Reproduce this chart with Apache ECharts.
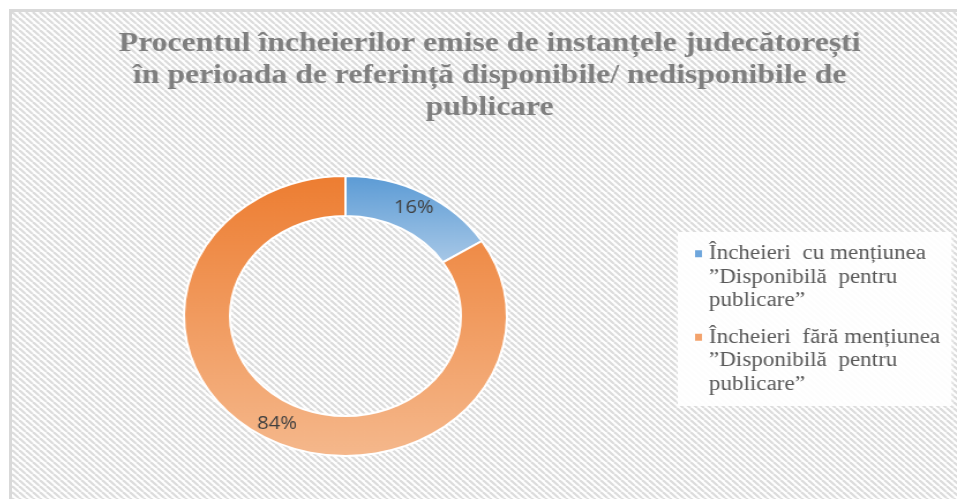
<!DOCTYPE html>
<html>
<head>
<meta charset="utf-8">
<script src="https://cdn.jsdelivr.net/npm/echarts@6/dist/echarts.min.js"></script>
<style>
    html, body { margin: 0; padding: 0; background: #fff; width: 957px; height: 499px; overflow: hidden; }
    #wrap {
        position: absolute; left: 9px; top: 9px; right: 0; bottom: 0;
        border-top: 3px solid #d9d9d9; border-left: 3px solid #d9d9d9;
        overflow: hidden;
    }
    /* the reference is stretched sideways, so the chart is drawn narrower and widened */
    #main { width: 819px; height: 487px; transform-origin: 0 0; transform: scaleX(1.1538); }
</style>
</head>
<body>
<div id="wrap"><div id="main"></div></div>
<script>
    var titleText = 'Procentul încheierilor emise de instanțele judecătorești\n' +
        'în perioada de referință disponibile/ nedisponibile de\npublicare';
    var categories = [
        'Încheieri cu mențiunea ”Disponibilă pentru publicare”',
        'Încheieri fără mențiunea ”Disponibilă pentru publicare”'
    ];
    var values = [16, 84];
    var legendLines = [
        ['Încheieri  cu mențiunea', '”Disponibilă  pentru', 'publicare”'],
        ['Încheieri  fără mențiunea', '”Disponibilă  pentru', 'publicare”']
    ];

    var sliceColors = [
        ['#5b9bd5', '#a8c8e7'],
        ['#ed7d31', '#f5b88c']
    ];
    var markerColors = ['#6ea6dc', '#f3a26b'];

    // diagonal hatch tile for the plot background
    function hatchTile() {
        var n = 6;
        var c = document.createElement('canvas');
        c.width = n;
        c.height = n;
        var ctx = c.getContext('2d');
        ctx.fillStyle = '#ffffff';
        ctx.fillRect(0, 0, n, n);
        ctx.strokeStyle = '#dcdcdc';
        ctx.lineWidth = 2.2;
        [-n, 0, n].forEach(function(k) {
            ctx.beginPath();
            ctx.moveTo(k, 0);
            ctx.lineTo(k + n, n);
            ctx.stroke();
        });
        return c;
    }

    var chart = echarts.init(document.getElementById('main'));

    var pieData = categories.map(function(name, i) {
        return {
            name: name,
            value: values[i],
            itemStyle: {
                color: {
                    type: 'linear', x: 0, y: 0, x2: 0, y2: 1,
                    colorStops: [
                        { offset: 0, color: sliceColors[i][0] },
                        { offset: 1, color: sliceColors[i][1] }
                    ]
                }
            }
        };
    });

    var option = {
        animation: false,
        backgroundColor: { image: hatchTile(), repeat: 'repeat' },
        title: {
            text: titleText,
            left: 414,
            top: 16,
            padding: 0,
            textAlign: 'center',
            textStyle: {
                fontFamily: 'Liberation Serif',
                fontWeight: 'bold',
                fontSize: 27.5,
                lineHeight: 32,
                color: '#7f7f7f'
            }
        },
        legend: {
            orient: 'vertical',
            left: 577,
            top: 220,
            padding: [10, 10, 10, 10],
            backgroundColor: 'rgba(255,255,255,0.92)',
            icon: 'none',
            itemWidth: 0,
            itemHeight: 0,
            itemGap: 13,
            selectedMode: false,
            data: categories,
            formatter: function(name) {
                var i = categories.indexOf(name);
                var lines = legendLines[i];
                return lines.map(function(line, j) {
                    var lead = j === 0 ? '{m' + i + '|}{g|}' : '{sp|}';
                    return lead + '{t|' + line + '}';
                }).join('\n');
            },
            textStyle: {
                lineHeight: 23.5,
                rich: {
                    m0: { width: 6, height: 7, backgroundColor: markerColors[0] },
                    m1: { width: 6, height: 7, backgroundColor: markerColors[1] },
                    g: { width: 6 },
                    sp: { width: 12 },
                    t: {
                        fontFamily: 'Liberation Serif',
                        fontSize: 20,
                        lineHeight: 23.5,
                        color: '#595959'
                    }
                }
            }
        },
        series: [{
            type: 'pie',
            center: [289, 304],
            radius: [100, 140],
            startAngle: 90,
            clockwise: true,
            emphasis: { disabled: true },
            itemStyle: { borderColor: '#ffffff', borderWidth: 2 },
            label: {
                show: true,
                position: 'inside',
                formatter: '{c}%',
                fontFamily: 'Open Sans',
                fontSize: 17.5,
                color: '#404040'
            },
            labelLine: { show: false },
            data: pieData
        }]
    };

    chart.setOption(option);
</script>
</body>
</html>
